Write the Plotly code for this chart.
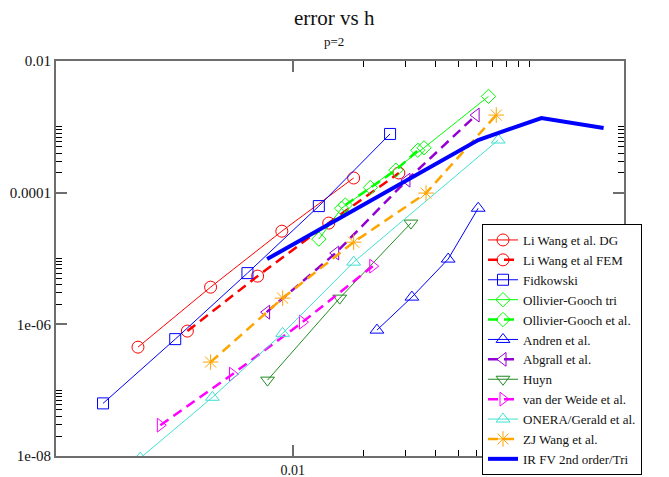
import plotly.graph_objects as go

# --- convergence data: mesh size h and error ---
li_dg_h = [0.00222, 0.0045, 0.0090, 0.0181]
li_dg_err = [4.5e-7, 3.67e-6, 2.6e-5, 1.67e-4]

li_fem_h = [0.00359, 0.00711, 0.0142, 0.0281]
li_fem_err = [7.9e-7, 5.4e-6, 3.45e-5, 1.99e-4]

fidkowski_h = [0.00158, 0.00319, 0.00644, 0.0129, 0.0258]
fidkowski_err = [6.3e-8, 5.96e-7, 6.0e-6, 6.25e-5, 7.8e-4]

og_tri_h = [0.0129, 0.0161, 0.0213, 0.0359, 0.0672]
og_tri_err = [1.97e-5, 5.8e-5, 1.2e-4, 4.8e-4, 2.9e-3]

og_h = [0.0167, 0.0273, 0.0338]
og_err = [6.5e-5, 2.2e-4, 4.4e-4]

andren_h = [0.0227, 0.0319, 0.0454, 0.0608]
andren_err = [8.17e-7, 2.59e-6, 9.8e-6, 5.8e-5]

abgrall_h = [0.00776, 0.0152, 0.0304, 0.0596]
abgrall_err = [1.53e-6, 1.21e-5, 1.55e-4, 1.51e-3]

huyn_h = [0.00783, 0.0158, 0.0316]
huyn_err = [1.42e-7, 2.5e-6, 3.45e-5]

vdw_h = [0.00276, 0.00557, 0.0110, 0.0218]
vdw_err = [2.94e-8, 1.75e-7, 1.08e-6, 7.65e-6]

onera_h = [0.00227, 0.00458, 0.00907, 0.0181, 0.0739]
onera_err = [9.3e-9, 7.8e-8, 7.3e-7, 8.8e-6, 6.3e-4]

zj_h = [0.0045, 0.00907, 0.0181, 0.0366, 0.0725]
zj_err = [2.67e-7, 2.5e-6, 1.77e-5, 9.86e-5, 1.51e-3]

irfv_h = [0.0078, 0.0156, 0.031, 0.0608, 0.1125, 0.206]
irfv_err = [9.8e-6, 3.97e-5, 1.61e-4, 6.3e-4, 1.36e-3, 9.6e-4]

# axis ticks
x_major = [0.01]
x_major_text = ["0.01"]
x_minor = [0.02, 0.03, 0.04, 0.05, 0.06, 0.07, 0.08, 0.09, 0.1]
y_major = [1e-2, 1e-4, 1e-6, 1e-8]
y_major_text = ["0.01", "0.0001", "1e-06", "1e-08"]
y_minor = [2e-8, 3e-8, 4e-8, 5e-8, 6e-8, 7e-8, 8e-8, 9e-8, 1e-7,
           2e-6, 3e-6, 4e-6, 5e-6, 6e-6, 7e-6, 8e-6, 9e-6, 1e-5,
           2e-4, 3e-4, 4e-4, 5e-4, 6e-4, 7e-4, 8e-4, 9e-4, 1e-3]

SERIF = "Liberation Serif"

series = [
    ("Li Wang et al. DG", li_dg_h, li_dg_err, "#ff0000", "circle-open", 12, "solid", 1),
    ("Li Wang et al FEM", li_fem_h, li_fem_err, "#ff0000", "circle-open", 12, "dash", 2.5),
    ("Fidkowski", fidkowski_h, fidkowski_err, "#0000ff", "square-open", 11, "solid", 1),
    ("Ollivier-Gooch tri", og_tri_h, og_tri_err, "#00ff00", "diamond-open", 11, "solid", 1),
    ("Ollivier-Gooch et al.", og_h, og_err, "#00ff00", "diamond-open", 11, "dash", 2.5),
    ("Andren et al.", andren_h, andren_err, "#0000ff", "triangle-up-open", 12, "solid", 1),
    ("Abgrall et al.", abgrall_h, abgrall_err, "#9400d3", "triangle-left-open", 12, "dash", 2.5),
    ("Huyn", huyn_h, huyn_err, "#228b22", "triangle-down-open", 12, "solid", 1),
    ("van der Weide et al.", vdw_h, vdw_err, "#ff00ff", "triangle-right-open", 12, "dash", 2.5),
    ("ONERA/Gerald et al.", onera_h, onera_err, "#40e0d0", "triangle-up-open", 12, "solid", 1),
    ("ZJ Wang et al.", zj_h, zj_err, "#ffa500", "asterisk-open", 13, "dash", 2.5),
]

fig = go.Figure()
for name, h, err, color, symbol, size, dash, width in series:
    fig.add_trace(go.Scatter(
        x=h, y=err, name=name, mode="lines+markers",
        line=dict(color=color, width=width, dash="10px,6px" if dash == "dash" else "solid"),
        marker=dict(symbol=symbol, size=size, color=color, line=dict(color=color, width=1)),
    ))

fig.add_trace(go.Scatter(
    x=irfv_h, y=irfv_err, name="IR FV 2nd order/Tri", mode="lines",
    line=dict(color="#0000ff", width=4),
))

axis_common = dict(
    type="log", showgrid=False, zeroline=False,
    showline=True, linecolor="#6e6e6e", linewidth=2, mirror="allticks",
    ticks="inside", ticklen=11, tickwidth=2, tickcolor="#6e6e6e",
    tickfont=dict(family=SERIF, size=15, color="#111"),
)

W, H = 669, 477
ML, MR, MT, MB = 56, 45, 61, 21
plot_w, plot_h = W - ML - MR, H - MT - MB

fig.update_layout(
    width=W, height=H,
    margin=dict(l=ML, r=MR, t=MT, b=MB, autoexpand=False),
    paper_bgcolor="white", plot_bgcolor="white",
    showlegend=True,
    xaxis=dict(
        **{**axis_common, "tickfont": dict(family=SERIF, size=14, color="#111")},
        range=[-3.0, -0.6],
        tickmode="array", tickvals=x_major, ticktext=x_major_text,
        minor=dict(tickmode="array", tickvals=x_minor, ticks="inside",
                   ticklen=6, tickwidth=1, tickcolor="#000"),
    ),
    yaxis=dict(
        **axis_common, range=[-8, -2],
        tickmode="array", tickvals=y_major, ticktext=y_major_text,
        minor=dict(tickmode="array", tickvals=y_minor, ticks="inside",
                   ticklen=6, tickwidth=1, tickcolor="#000"),
    ),
    legend=dict(
        x=(482 - ML) / plot_w, y=(H - MB - 224) / plot_h,
        xanchor="left", yanchor="top",
        bgcolor="white", bordercolor="#000", borderwidth=1,
        font=dict(family=SERIF, size=13, color="#111"),
        tracegroupgap=0, itemwidth=30,
    ),
    annotations=[
        dict(text="error vs h", x=(334 - ML) / plot_w, y=(H - MB - 18) / plot_h,
             xref="paper", yref="paper", yanchor="middle",
             showarrow=False, font=dict(family=SERIF, size=21, color="#111")),
        dict(text="p=2", x=(334 - ML) / plot_w, y=(H - MB - 42) / plot_h,
             xref="paper", yref="paper", yanchor="middle",
             showarrow=False, font=dict(family=SERIF, size=13, color="#111")),
    ],
)

fig.write_html("out.html")
